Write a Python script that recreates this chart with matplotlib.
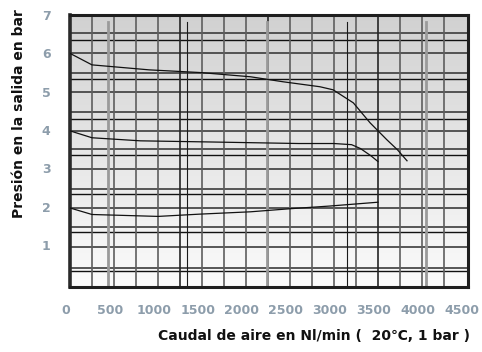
import numpy as np
import matplotlib
matplotlib.use("Agg")
from matplotlib import pyplot as plt
from matplotlib.transforms import ScaledTranslation

# =============================================================================
# Data:
# =============================================================================

flow_hi = [0, 250, 900, 1480, 2050, 2420, 2840, 2990, 3220, 3410, 3600, 3720, 3830]
pres_hi = [6.0, 5.7, 5.57, 5.5, 5.39, 5.26, 5.13, 5.05, 4.71, 4.19, 3.75, 3.49, 3.2]

flow_mid = [0, 250, 800, 1600, 2600, 3000, 3200, 3300, 3420, 3500]
pres_mid = [3.98, 3.8, 3.72, 3.69, 3.65, 3.65, 3.62, 3.52, 3.33, 3.18]

flow_lo = [0, 250, 1000, 1480, 2050, 2500, 2950, 3500]
pres_lo = [1.97, 1.8, 1.75, 1.81, 1.87, 1.95, 2.02, 2.12]

x_ticks = [0, 500, 1000, 1500, 2000, 2500, 3000, 3500, 4000, 4500]
y_ticks = [1, 2, 3, 4, 5, 6, 7]

# grid of the printed chart sheet
h_grid_main = [0.4, 0.95, 1.48, 1.98, 2.47, 2.98, 3.5, 3.97, 4.48, 5.0, 5.5, 6.02, 6.52]
h_grid_extra = [0.33, 1.34, 2.34, 3.36, 4.3, 5.32, 6.36]
v_grid = [250 * k for k in range(1, 18)]
v_grid_dark = [1250, 2250, 3500]
v_grid_tall = [432, 1330, 2239, 3148, 4045]

TICK_COLOR = "#8d9dab"

# =============================================================================
# Figure:
# =============================================================================

fig = plt.figure(figsize=(4.82, 3.52), dpi=100)
ax = fig.add_axes([70 / 482, 1 - 287 / 352, 398 / 482, 272 / 352])
ax.set_xlim(0, 4523)
ax.set_ylim(-0.09, 7.0)

# grey-to-white background
shade = np.linspace(0.82, 0.985, 256)
grad = np.dstack([shade, shade, shade]).reshape(-1, 1, 3)
ax.imshow(grad, aspect="auto", extent=[0, 4523, -0.09, 7.0],
          origin="upper", zorder=0)

for y in h_grid_main:
    ax.axhline(y, color="#3c3c3c", lw=1.2, zorder=1)
for y in h_grid_extra:
    ax.axhline(y, color="#111111", lw=1.0, zorder=1)
for x in v_grid:
    c = "#262626" if x in v_grid_dark else "#5e5e5e"
    ax.axvline(x, color=c, lw=1.2, zorder=1)
for i, x in enumerate(v_grid_tall):
    if i % 2 == 0:
        ax.plot([x, x], [-0.09, 6.83], color="#9a9a9a", lw=2.0, zorder=1)
    else:
        ax.plot([x, x], [-0.09, 6.83], color="#1a1a1a", lw=0.8, zorder=1)

ax.plot(flow_hi, pres_hi, color="#111111", lw=0.9, zorder=3)
ax.plot(flow_mid, pres_mid, color="#111111", lw=0.9, zorder=3)
ax.plot(flow_lo, pres_lo, color="#111111", lw=0.9, zorder=3)

for side in ["top", "bottom", "right"]:
    ax.spines[side].set_linewidth(2.2)
    ax.spines[side].set_color("#1e1e1e")
ax.spines["left"].set_linewidth(2.6)
ax.spines["left"].set_color("#2a2a2a")

ax.set_xticks(x_ticks)
ax.set_yticks(y_ticks)
ax.tick_params(length=0, labelsize=9, labelcolor=TICK_COLOR)
ax.tick_params(axis="x", pad=12)
ax.tick_params(axis="y", pad=14)
for lab in ax.get_xticklabels() + ax.get_yticklabels():
    lab.set_fontweight("bold")
# printed labels sit a few pixels left of the grid values
shift = ScaledTranslation(-4 / 100, 0, fig.dpi_scale_trans)
for lab in ax.get_xticklabels():
    lab.set_transform(lab.get_transform() + shift)

fig.text(314 / 482, 1 - 336 / 352, "Caudal de aire en Nl/min (  20\u2103, 1 bar )",
         ha="center", va="center", fontsize=10, fontweight="bold", color="#111111")
fig.text(19 / 482, 1 - 114 / 352, "Presión en la salida en bar", rotation=90,
         ha="center", va="center", fontsize=10, fontweight="bold", color="#111111")

plt.savefig("out.png", dpi=100)
plt.close()
